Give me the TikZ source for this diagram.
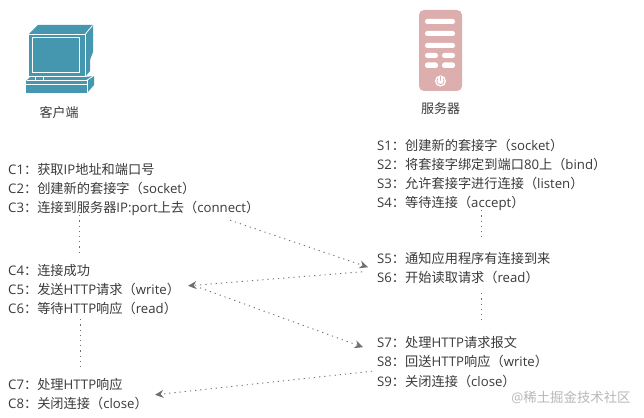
\documentclass[tikz,border=0pt]{standalone}
\usepackage{fontspec}
\setmainfont{Open Sans}
\newfontfamily\cjk{Noto Sans CJK SC}
\newcommand{\zh}[1]{{\cjk #1}}
\usetikzlibrary{arrows.meta}
\definecolor{txt}{HTML}{3A3A3A}
\definecolor{dotc}{HTML}{707070}
\definecolor{iconteal}{HTML}{4497AE}
\definecolor{pinkb}{HTML}{DDAEAE}
\tikzset{
  textline/.style={anchor=west,inner sep=0pt,text height=12pt,text depth=1pt,text=txt,font=\fontsize{13.2}{15}\selectfont},
  iconlabel/.style={anchor=center,inner sep=0pt,text=txt,font=\fontsize{13}{15}\selectfont},
  vdots/.style={draw=dotc,line width=0.9pt,dash pattern=on 1.2pt off 4pt},
  arr/.style={vdots,-{Stealth[length=8.5pt,width=8pt,color=dotc,fill=dotc]}},
  wline/.style={draw=white,line width=0.8pt},
  barshape/.style={fill=white,rounded corners=2.4pt,draw=none}
}
\begin{document}
\begin{tikzpicture}[x=1pt,y=-1pt]
\useasboundingbox[fill=white] (0,0) rectangle (644,417);
% computer
\fill[iconteal] (29,34) -- (38,25) -- (93,25) -- (93,52) -- (90,60) -- (90,71) -- (85,77) -- (29,77) -- cycle;
\fill[iconteal] (26,81) -- (30,77) -- (85,77) -- (94,76) -- (94,85) -- (87,93) -- (26,93) -- cycle;
\draw[wline] (29,34.5) -- (85,34.5) -- (92.5,25.5);
\draw[wline] (85,34.5) -- (85,77);
\draw[wline] (32.5,37.5) rectangle (79.5,72.5);
\draw[wline] (29,76.8) -- (85,76.8);
\draw[wline] (27,80.5) -- (86.5,80.5) -- (93.5,76);
\draw[wline] (26,84.5) -- (87,84.5);
\draw[wline] (87,80.5) -- (87,93);
\draw[wline] (35.5,77) -- (35.5,80.5) (43.5,77) -- (43.5,80.5);
\node[iconlabel] (clab) at (59,112.5) {\zh{客户端}};
% server
\fill[pinkb,rounded corners=5pt] (419,10) rectangle (462,91);
\fill[barshape] (425,19) rectangle (455,24);
\fill[barshape] (425,31) rectangle (455,36);
\fill[barshape] (425,43) rectangle (455,48);
\fill[barshape] (425,53) rectangle (438,58);
\fill[barshape] (442,53) rectangle (455,58);
\fill[barshape] (425,62.5) rectangle (438,68);
\fill[barshape] (442,62.5) rectangle (455,68);
\fill[white] (440.5,81) circle (5.6);
\draw[pinkb,line width=0.8pt,line cap=round] (437.7,78.7) arc[start angle=220,end angle=-40,radius=3.6];
\draw[pinkb,line width=0.8pt,line cap=round] (440.5,76.5) -- (440.5,80.5);
\node[iconlabel] (slab) at (440.5,108.5) {\zh{服务器}};
% client text
\node[textline] (c1) at (8,169) {C1\zh{：获取}IP\zh{地址和端口号}};
\node[textline] (c2) at (8,188) {C2\zh{：创建新的套接字（}socket\zh{）}};
\node[textline] (c3) at (8,207) {C3\zh{：连接到服务器}IP:port\zh{上去（}connect\zh{）}};
\node[textline] (c4) at (8,270) {C4\zh{：连接成功}};
\node[textline] (c5) at (8,289) {C5\zh{：发送}HTTP\zh{请求（}write\zh{）}};
\node[textline] (c6) at (8,308) {C6\zh{：等待}HTTP\zh{响应（}read\zh{）}};
\node[textline] (c7) at (8,384) {C7\zh{：处理}HTTP\zh{响应}};
\node[textline] (c8) at (8,403) {C8\zh{：关闭连接（}close\zh{）}};
% server text
\node[textline] (s1) at (377,145) {S1\zh{：创建新的套接字（}socket\zh{）}};
\node[textline] (s2) at (377,164) {S2\zh{：将套接字绑定到端口}80\zh{上（}bind\zh{）}};
\node[textline] (s3) at (377,183) {S3\zh{：允许套接字进行连接（}listen\zh{）}};
\node[textline] (s4) at (377,202) {S4\zh{：等待连接（}accept\zh{）}};
\node[textline] (s5) at (377,258) {S5\zh{：通知应用程序有连接到来}};
\node[textline] (s6) at (377,277) {S6\zh{：开始读取请求（}read\zh{）}};
\node[textline] (s7) at (377,342) {S7\zh{：处理}HTTP\zh{请求报文}};
\node[textline] (s8) at (377,361) {S8\zh{：回送}HTTP\zh{响应（}write\zh{）}};
\node[textline] (s9) at (377,381) {S9\zh{：关闭连接（}close\zh{）}};
% vertical links
\draw[vdots] ([xshift=71.5pt,yshift=-1.5pt]c3.south west) -- ([xshift=71.5pt,yshift=11.5pt]c4.north west);
\draw[vdots] ([xshift=72pt,yshift=-4.5pt]c6.south west) -- ([xshift=72pt,yshift=7.5pt]c7.north west);
\draw[vdots] ([xshift=104.5pt,yshift=-1.5pt]s4.south west) -- ([xshift=104.5pt,yshift=11.5pt]s5.north west);
\draw[vdots] ([xshift=104.5pt,yshift=-9.5pt]s6.south west) -- ([xshift=104.5pt,yshift=15.5pt]s7.north west);
% arrows
\draw[arr] ([xshift=222pt,yshift=-6.5pt]c3.south west) -- ([xshift=-9pt,yshift=-2.5pt]s5.south west);
\draw[arr] ([xshift=-15pt,yshift=-1.5pt]s6.north west) -- ([xshift=180pt,yshift=-3.5pt]c5.north west);
\draw[arr] ([xshift=192pt,yshift=-5.5pt]c5.north west) -- ([xshift=-14pt,yshift=1.5pt]s7.south west);
\draw[arr] ([xshift=-5pt,yshift=-3.5pt]s8.south west) -- ([xshift=147pt,yshift=1.5pt]c8.north west);
% watermark
\node[anchor=center,inner sep=0pt,text=black!28,font=\fontsize{13.4}{15}\selectfont] (wm) at (571,397) {@\zh{稀土掘金技术社区}};
\end{tikzpicture}
\end{document}
